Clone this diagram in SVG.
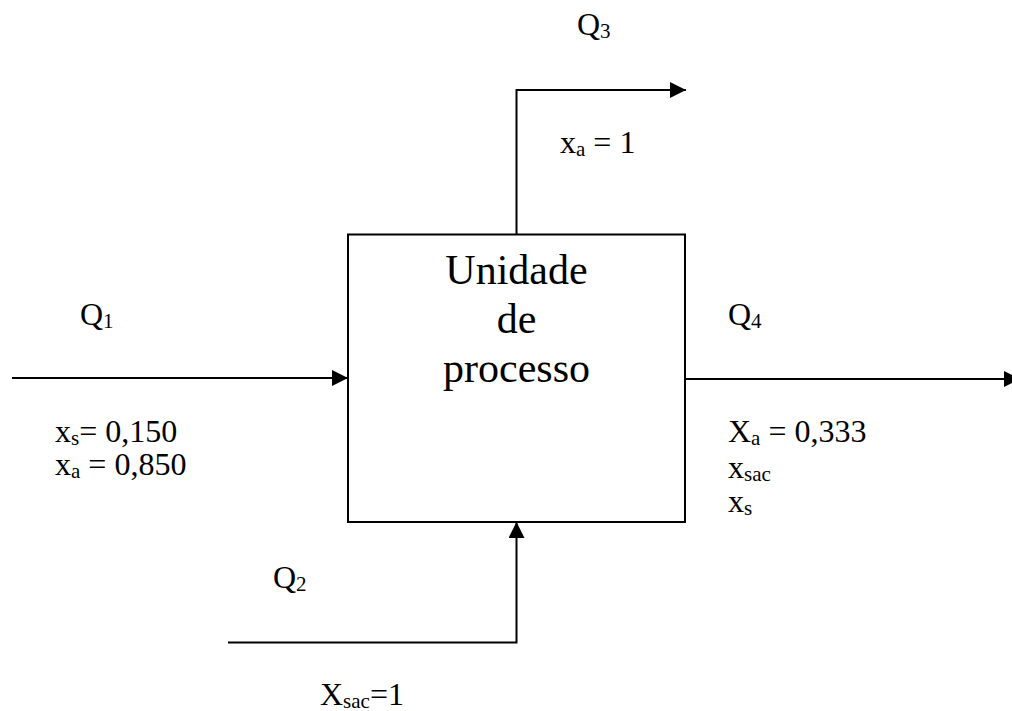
<svg xmlns="http://www.w3.org/2000/svg" width="1012" height="711" viewBox="0 0 1012 711">
  <style>
    .lbl { font-family: "Liberation Serif", "Times New Roman", serif; font-size: 32px; fill: #000; }
    .title { font-family: "Liberation Serif", "Times New Roman", serif; font-size: 42px; fill: #000; text-anchor: middle; }
    .sub { font-size: 21px; }
    .wire { fill: none; stroke: #000; stroke-width: 2; }
  </style>
  <defs>
    <marker id="arrow" markerWidth="16" markerHeight="16" viewBox="0 0 16 16" refX="16" refY="8" orient="auto" markerUnits="userSpaceOnUse">
      <path d="M0,0 L16,8 L0,16 Z" fill="#000"/>
    </marker>
  </defs>
  <rect width="1012" height="711" fill="#fff"/>

  <!-- process unit -->
  <g id="unit">
    <rect x="348" y="234.5" width="337" height="287.5" fill="#fff" stroke="#000" stroke-width="2"/>
    <text class="title" x="516.5" y="284">Unidade</text>
    <text class="title" x="516.5" y="333">de</text>
    <text class="title" x="516.5" y="382">processo</text>
  </g>

  <!-- streams -->
  <g id="connectors">
    <path id="q1" class="wire" d="M12,378 L348,378" marker-end="url(#arrow)"/>
    <path id="q3" class="wire" d="M516.5,234.5 L516.5,90 L686,90" marker-end="url(#arrow)"/>
    <path id="q4" class="wire" d="M685,379 L1020,379" marker-end="url(#arrow)"/>
    <path id="q2" class="wire" d="M228,642.5 L516.5,642.5 L516.5,522" marker-end="url(#arrow)"/>
  </g>

  <!-- stream labels -->
  <g id="label-q3">
    <text class="lbl" x="577" y="35">Q<tspan class="sub" dy="3">3</tspan></text>
    <text class="lbl" x="560" y="153">x<tspan class="sub" dy="3">a</tspan><tspan dy="-3"> = 1</tspan></text>
  </g>
  <g id="label-q1">
    <text class="lbl" x="80" y="325">Q<tspan class="sub" dy="3">1</tspan></text>
    <text class="lbl" x="55" y="442">x<tspan class="sub" dy="3">s</tspan><tspan dy="-3">= 0,150</tspan></text>
    <text class="lbl" x="55" y="475">x<tspan class="sub" dy="3">a</tspan><tspan dy="-3"> = 0,850</tspan></text>
  </g>
  <g id="label-q4">
    <text class="lbl" x="728" y="325">Q<tspan class="sub" dy="3">4</tspan></text>
    <text class="lbl" x="728" y="442">X<tspan class="sub" dy="3">a</tspan><tspan dy="-3"> = 0,333</tspan></text>
    <text class="lbl" x="728" y="478">x<tspan class="sub" dy="3">sac</tspan></text>
    <text class="lbl" x="728" y="512">x<tspan class="sub" dy="3">s</tspan></text>
  </g>
  <g id="label-q2">
    <text class="lbl" x="273" y="588">Q<tspan class="sub" dy="3">2</tspan></text>
    <text class="lbl" x="320" y="705">X<tspan class="sub" dy="3">sac</tspan><tspan dy="-3">=1</tspan></text>
  </g>
</svg>
